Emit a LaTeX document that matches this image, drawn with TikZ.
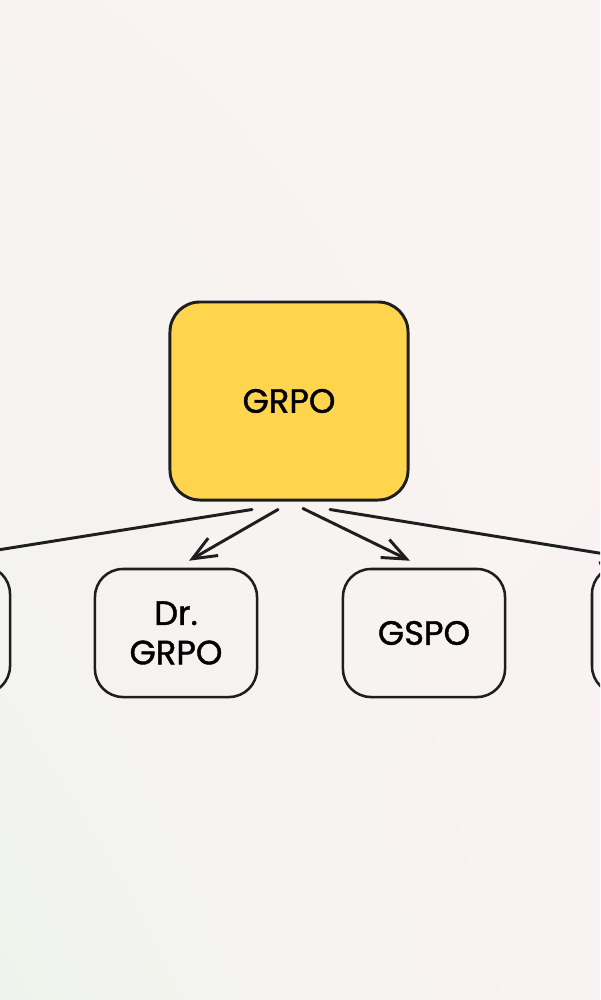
\documentclass[tikz,border=0pt]{standalone}
\usepackage{fontspec}
\setmainfont{Poppins}
\newfontfamily\boxfont{Poppins}[FakeBold=1.2]
\usepackage{tikz}
\usepackage{xcolor}
\usetikzlibrary{arrows.meta,shadings}
\definecolor{grpoyellow}{RGB}{255,213,78}
\definecolor{inkline}{RGB}{30,30,30}
\definecolor{bgtl}{RGB}{248,243,242}
\definecolor{bgtr}{RGB}{251,243,243}
\definecolor{bgbl}{RGB}{240,243,237}
\definecolor{bgbr}{RGB}{249,242,242}

\begin{document}
\begin{tikzpicture}[x=0.025cm,y=-0.025cm]%
  \tikzstyle{rootbox}=[rectangle,draw=inkline,fill=grpoyellow,line width=2.1pt,rounded corners=0.75cm,minimum width=5.95cm,minimum height=4.95cm,font=\boxfont\fontsize{24}{28}\selectfont]
  \tikzstyle{leafbox}=[rectangle,draw=inkline,line width=1.8pt,rounded corners=0.7cm,minimum width=4.05cm,minimum height=3.2cm,align=center,font=\boxfont\fontsize{24}{28}\selectfont]
  \tikzstyle{link}=[draw=inkline,line width=2.1pt,line cap=round,-{Straight Barb[length=6mm,width=5mm]}]
  % background and frame
  \shade[upper left=bgtl,upper right=bgtr,lower left=bgbl,lower right=bgbr] (0,0) rectangle (600,1000);
  \useasboundingbox (0,0) rectangle (600,1000);
  \clip (0,0) rectangle (600,1000);
  % nodes
  \node(grpo)[rootbox] at (289,401) {GRPO};
  \node(leftbox)[leafbox] at (-71,630) {};
  \node(drgrpo)[leafbox] at (176,633) {Dr.\\GRPO};
  \node(gspo)[leafbox] at (424,633) {GSPO};
  \node(rightbox)[leafbox] at (673,630) {};
  % links
  \draw[link] ([shift={(-37,8)}]grpo.south) -- ([shift={(20,-7)}]leftbox.north);
  \draw[link] ([shift={(-11,8)}]grpo.south) -- ([shift={(13,-7)}]drgrpo.north);
  \draw[link] ([shift={(14,7)}]grpo.south) -- ([shift={(-14,-7)}]gspo.north);
  \draw[link] ([shift={(41,8)}]grpo.south) -- ([shift={(-45,-7)}]rightbox.north);
\end{tikzpicture}
\end{document}
